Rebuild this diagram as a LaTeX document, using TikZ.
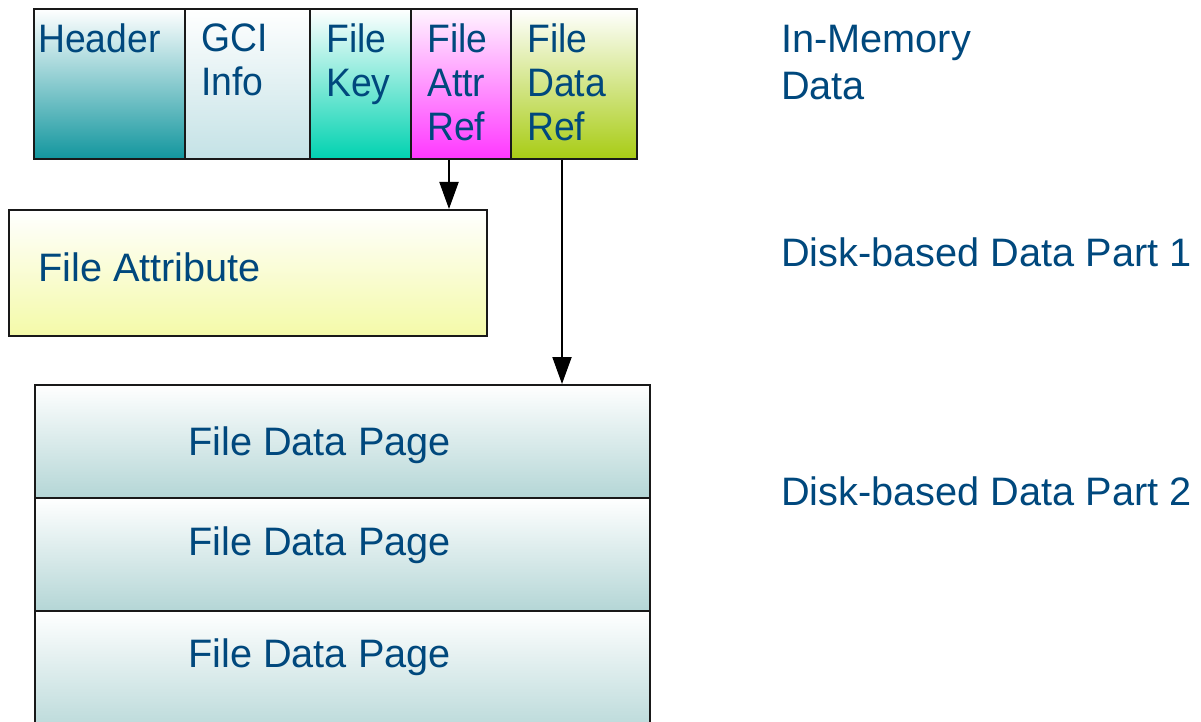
\documentclass[tikz,border=0pt]{standalone}
\usepackage{fontspec}
\setmainfont{Liberation Sans}
\newfontfamily\cellfont[FakeStretch=0.94]{Liberation Sans}
\usetikzlibrary{arrows.meta}
\definecolor{ink}{RGB}{0,72,125}
\definecolor{edge}{RGB}{25,25,25}
\tikzset{
  cell/.style={draw=edge, line width=2pt, anchor=north west, inner sep=0pt},
  txt/.style={text=ink, font=\fontsize{39.7}{44}\selectfont, inner sep=0pt, align=left},
  side/.style={txt, anchor=north west},
  celltext/.style={side, font=\cellfont\fontsize{39.7}{44}\selectfont},
  arr/.style={draw=black, line width=2pt, -{Triangle[length=27pt,width=19pt]}}
}
\begin{document}
\begin{tikzpicture}[x=1pt,y=-1pt]
\useasboundingbox (0,0) rectangle (1201,722);
\clip (0,0) rectangle (1201,722);

% in-memory record
\node[cell, minimum width=151, minimum height=150, top color=white, bottom color={rgb,255:red,18;green,150;blue,158}] (hdr) at (33,8) {};
\node[cell, minimum width=125, minimum height=150, top color=white, bottom color={rgb,255:red,196;green,226;blue,230}] (gci) at (184,8) {};
\node[cell, minimum width=101, minimum height=150, top color=white, bottom color={rgb,255:red,0;green,210;blue,176}] (key) at (309,8) {};
\node[cell, minimum width=100, minimum height=150, top color={rgb,255:red,255;green,245;blue,255}, bottom color={rgb,255:red,255;green,55;blue,255}] (attr) at (410,8) {};
\node[cell, minimum width=126, minimum height=150, top color=white, bottom color={rgb,255:red,168;green,204;blue,20}] (dref) at (510,8) {};

\node[celltext] at ([xshift=5,yshift=-16]hdr.north west) {Header};
\node[celltext] at ([xshift=17,yshift=-16]gci.north west) {GCI\\Info};
\node[celltext] at ([xshift=17,yshift=-16]key.north west) {File\\Key};
\node[celltext] at ([xshift=17,yshift=-16]attr.north west) {File\\Attr\\Ref};
\node[celltext] at ([xshift=17,yshift=-16]dref.north west) {File\\Data\\Ref};

% disk part 1
\node[cell, minimum width=478, minimum height=126, top color=white, bottom color={rgb,255:red,244;green,250;blue,168}] (fa) at (8,209) {};
\node[txt, anchor=west] at ([xshift=30,yshift=6]fa.west) {File Attribute};

% disk part 2
\node[cell, minimum width=615, minimum height=113, top color=white, bottom color={rgb,255:red,180;green,214;blue,214}] (p1) at (34,384) {};
\node[cell, minimum width=615, minimum height=113, top color=white, bottom color={rgb,255:red,180;green,214;blue,214}] (p2) at (34,497) {};
\node[cell, minimum width=615, minimum height=130, top color=white, bottom color={rgb,255:red,180;green,214;blue,214}] (p3) at (34,610) {};
\node[txt] at ([xshift=-23,yshift=-4]p1.center) {File Data Page};
\node[txt] at ([xshift=-23,yshift=9]p2.center) {File Data Page};
\node[txt] at ([xshift=-23]p2.center |- 0,657.5) {File Data Page};

% references
\draw[arr] ([xshift=-12]attr.south) -- ([xshift=-12]attr.south |- fa.north);
\draw[arr] ([xshift=-12]dref.south) -- ([xshift=-12]dref.south |- p1.north);

% layer captions
\node[side, font=\fontsize{39.7}{47}\selectfont] (l0) at (781,25) {In-Memory\\Data};
\node[side] (l1) at (781,238) {Disk-based Data Part 1};
\node[side] (l2) at (781,477) {Disk-based Data Part 2};
\end{tikzpicture}
\end{document}
